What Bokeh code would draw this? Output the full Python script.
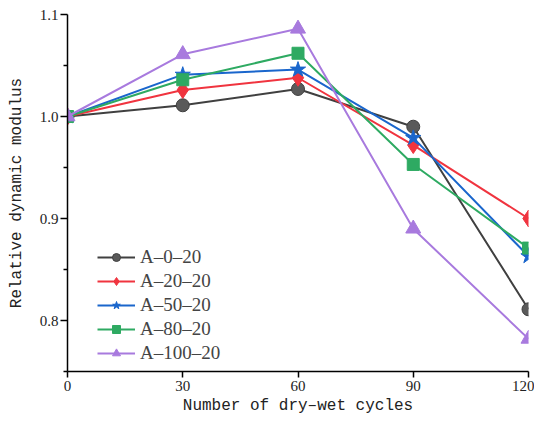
from bokeh.plotting import figure
from bokeh.models import FixedTicker, Legend, LegendItem, Range1d, PrintfTickFormatter
from bokeh.embed import file_html
from bokeh.resources import INLINE

cycles = [0, 30, 60, 90, 120]
series_names = ["A\u20130\u201320", "A\u201320\u201320", "A\u201350\u201320", "A\u201380\u201320", "A\u2013100\u201320"]
a_0_20 = [1.000, 1.011, 1.027, 0.990, 0.811]
a_20_20 = [1.000, 1.026, 1.038, 0.972, 0.900]
a_50_20 = [1.000, 1.041, 1.046, 0.979, 0.863]
a_80_20 = [1.000, 1.036, 1.062, 0.953, 0.871]
a_100_20 = [1.000, 1.061, 1.086, 0.890, 0.782]
x_ticks = [0, 30, 60, 90, 120]
y_ticks = [0.8, 0.9, 1.0, 1.1]
y_minor = [0.75, 0.85, 0.95, 1.05]

p = figure(width=534, height=417, output_backend="svg", toolbar_location=None,
           x_range=Range1d(0, 120), y_range=Range1d(0.75, 1.1),
           min_border_left=67, min_border_right=6, min_border_top=14, min_border_bottom=10)
p.outline_line_color = None
p.xgrid.visible = False
p.ygrid.visible = False
p.background_fill_color = "white"
p.border_fill_color = "white"

styles = [
    (a_0_20, "#404040", "circle", 13, "#5a5a5a"),
    (a_20_20, "#f0343f", "diamond", 17, "#f0343f"),
    (a_50_20, "#1a66cc", "star", 16, "#1a66cc"),
    (a_80_20, "#2eaa62", "square", 12, "#2eaa62"),
    (a_100_20, "#a87ade", "triangle", 15, "#a87ade"),
]

items = []
for (vals, col, mk, sz, fc), name in zip(styles, series_names):
    l = p.line(cycles, vals, line_color=col, line_width=2)
    m = p.scatter(cycles, vals, marker=mk, size=sz, fill_color=fc, line_color=col, line_width=1)
    items.append(LegendItem(label=name, renderers=[l, m]))

legend = Legend(items=items, location=(30, 7))
legend.border_line_color = None
legend.background_fill_alpha = 0
legend.label_text_font = "Liberation Serif"
legend.label_text_font_size = "19px"
legend.glyph_width = 38
legend.glyph_height = 20
legend.spacing = 2
legend.padding = 0
legend.margin = 0
legend.label_standoff = 5
legend.label_height = 20
p.add_layout(legend)

for ax in (p.xaxis[0], p.yaxis[0]):
    ax.axis_line_width = 1.5
    ax.axis_line_color = "black"
    ax.major_tick_line_color = "black"
    ax.major_tick_line_width = 1.5
    ax.minor_tick_line_color = "black"
    ax.minor_tick_line_width = 1.5
    ax.major_tick_in = 0
    ax.minor_tick_in = 0
    ax.major_label_text_font = "Liberation Serif"
    ax.major_label_text_font_size = "15px"
    ax.major_label_text_color = "#222222"
    ax.axis_label_text_font = "Liberation Mono"
    ax.axis_label_text_font_size = "16px"
    ax.axis_label_text_font_style = "normal"
    ax.axis_label_text_color = "#222222"

p.xaxis.ticker = FixedTicker(ticks=x_ticks, minor_ticks=[])
p.xaxis.major_tick_out = 6
p.xaxis.major_label_standoff = 3
p.xaxis.axis_label = "Number of dry\u2013wet cycles"
p.xaxis.axis_label_standoff = 3

p.yaxis.ticker = FixedTicker(ticks=y_ticks, minor_ticks=y_minor)
p.yaxis.major_tick_out = 7
p.yaxis.minor_tick_out = 4
p.yaxis.major_label_standoff = 2
p.yaxis.axis_label = "Relative dynamic modulus"
p.yaxis.axis_label_standoff = 11
p.yaxis.formatter = PrintfTickFormatter(format="%.1f")

open("out.html", "w").write(file_html(p, INLINE))
